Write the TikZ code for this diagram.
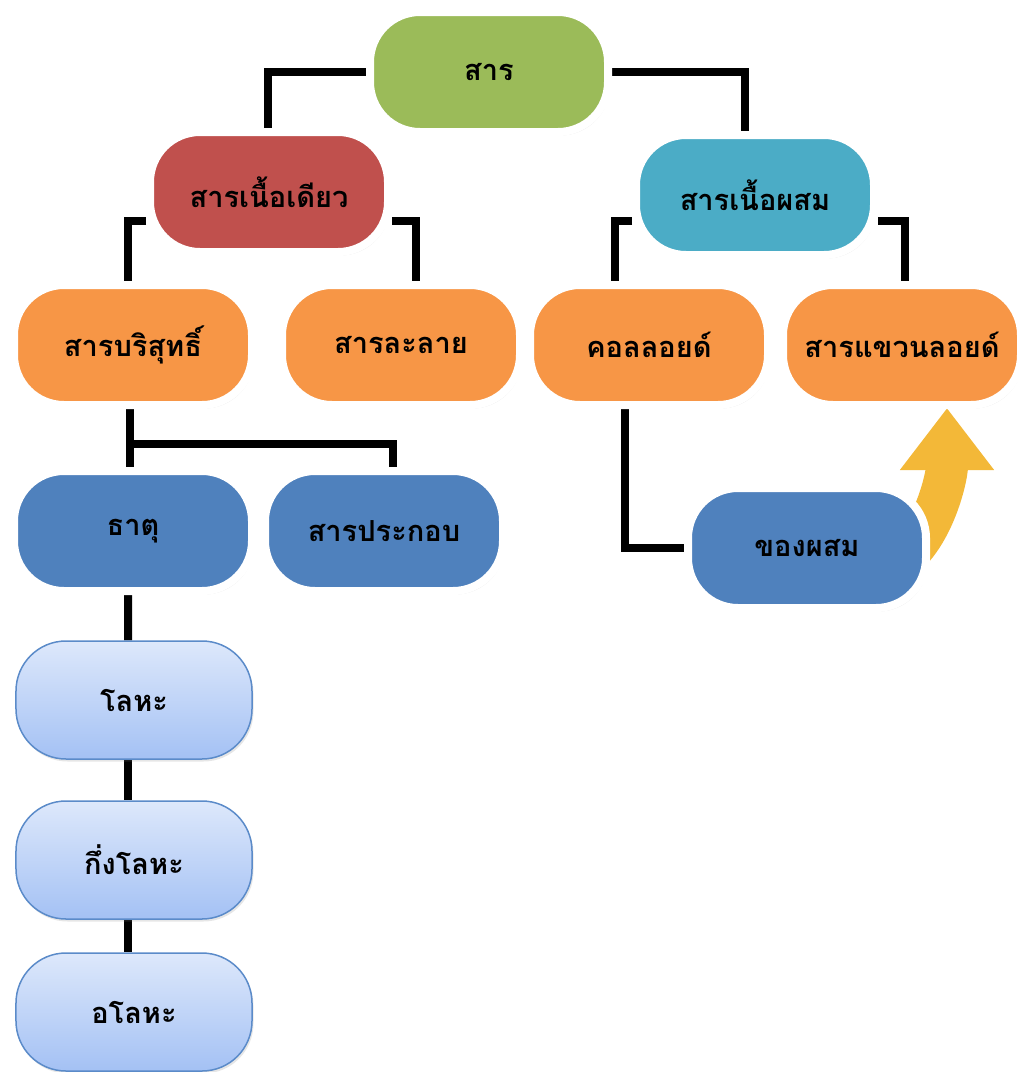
\documentclass[tikz,border=0pt]{standalone}
\usepackage{fontspec}
\newfontfamily\thaifont[Script=Thai]{Loma}
\usetikzlibrary{shadows,backgrounds,arrows.meta}
\definecolor{sargreen}{HTML}{9BBB59}
\definecolor{homored}{HTML}{C0504D}
\definecolor{heteroteal}{HTML}{4BACC6}
\definecolor{kindorange}{HTML}{F79646}
\definecolor{partblue}{HTML}{4F81BD}
\definecolor{leaftop}{HTML}{DDE8FB}
\definecolor{leafbottom}{HTML}{A4C1F4}
\definecolor{leafborder}{HTML}{5B8BC9}
\definecolor{arrowgold}{HTML}{F3B838}
\begin{document}
\begin{tikzpicture}[
  box/.style={rounded corners=1cm, minimum width=4.76cm, minimum height=2.4cm,
    draw=white, line width=0.16cm, font=\thaifont\bfseries\fontsize{16.5}{18}\selectfont,
    drop shadow={opacity=0.25, shadow xshift=0.04cm, shadow yshift=-0.07cm}},
  leaf/.style={rounded corners=1cm, minimum width=4.72cm, minimum height=2.36cm,
    draw=leafborder, line width=0.03cm, top color=leaftop, bottom color=leafbottom,
    font=\thaifont\bfseries\fontsize{16.5}{18}\selectfont,
    drop shadow={opacity=0.2, shadow xshift=0.03cm, shadow yshift=-0.05cm}},
  link/.style={line width=0.16cm}
]
\useasboundingbox (0,0) rectangle (20.42,-21.44);
\node[box, fill=sargreen] (sar) at (9.78,-1.44) {สาร};
\node[box, fill=homored] (homo) at (5.38,-3.84) {สารเนื้อเดียว};
\node[box, fill=heteroteal] (hetero) at (15.1,-3.9) {สารเนื้อผสม};
\node[box, fill=kindorange] (pure) at (2.66,-6.9) {สารบริสุทธิ์};
\node[box, fill=kindorange] (soln) at (8.02,-6.9) {สารละลาย};
\node[box, fill=kindorange] (colloid) at (12.98,-6.9) {คอลลอยด์};
\node[box, fill=kindorange] (susp) at (18.04,-6.9) {สารแขวนลอยด์};
\node[box, fill=partblue] (element) at (2.66,-10.62) {ธาตุ};
\node[box, fill=partblue] (compound) at (7.68,-10.62) {สารประกอบ};
\node[box, fill=partblue] (mixture) at (16.14,-10.96) {ของผสม};
\node[leaf] (metal) at (2.68,-14.0) {โลหะ};
\node[leaf] (metalloid) at (2.68,-17.2) {กึ่งโลหะ};
\node[leaf] (nonmetal) at (2.68,-20.24) {อโลหะ};
\begin{pgfonlayer}{background}
\draw[link] (sar.west) -| ([xshift=-0.02cm]homo.north);
\draw[link] (sar.east) -| ([xshift=-0.2cm]hetero.north);
\draw[link] ([yshift=-0.58cm]homo.west) -| ([xshift=-0.1cm]pure.north);
\draw[link] ([yshift=-0.58cm]homo.east) -| ([xshift=0.3cm]soln.north);
\draw[link] ([yshift=-0.52cm]hetero.west) -| ([xshift=-0.68cm]colloid.north);
\draw[link] ([yshift=-0.52cm]hetero.east) -| ([xshift=0.06cm]susp.north);
\draw[link] ([xshift=-0.06cm]pure.south) -- ([xshift=-0.06cm]element.north);
\draw[link] ([xshift=-0.06cm,yshift=-0.7cm]pure.south) -| ([xshift=0.18cm]compound.north);
\draw[link] ([xshift=-0.1cm]element.south) -- ([xshift=-0.12cm]metal.north);
\draw[link] ([xshift=-0.12cm]metal.south) -- ([xshift=-0.12cm]metalloid.north);
\draw[link] ([xshift=-0.12cm]metalloid.south) -- ([xshift=-0.12cm]nonmetal.north);
\draw[link] ([xshift=-0.48cm]colloid.south) |- (mixture.west);
\draw[arrowgold, line width=0.84cm, -{Triangle[width=1.8cm, length=1.24cm]}]
  ([xshift=-0.9cm,yshift=-0.4cm]mixture.east) .. controls +(0.9,0.3) and +(0,-1.4) ..
  ([xshift=0.9cm,yshift=0.02cm]susp.south);
\end{pgfonlayer}
\end{tikzpicture}
\end{document}
